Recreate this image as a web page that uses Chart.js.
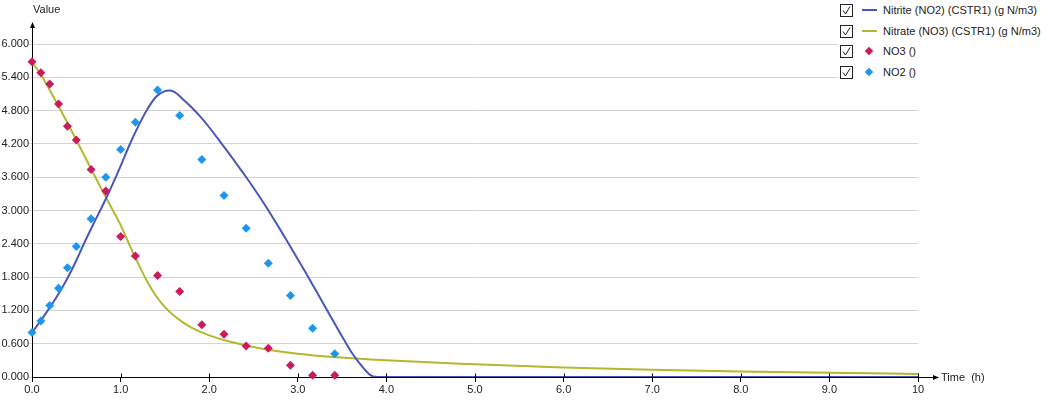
<!DOCTYPE html>
<html>
<head>
<meta charset="utf-8">
<script src="https://cdn.jsdelivr.net/npm/chart.js@4.4.1/dist/chart.umd.min.js"></script>
<style>
  body { margin: 0; background: #fff; font-family: "Liberation Sans", Arial, sans-serif; }
  #wrap { position: relative; width: 1048px; height: 404px; }
  .lbl { position: absolute; font-size: 11px; color: #222; white-space: nowrap; line-height: 12px; }
  #legend { position: absolute; left: 838px; top: 0; width: 210px; height: 82px; background: #fff; }
  .row { position: absolute; left: 0; width: 210px; height: 14px; }
  .row svg { position: absolute; left: 2px; top: 1px; }
  .line { position: absolute; left: 24px; top: 6px; width: 15px; height: 2px; }
  .dia { position: absolute; left: 28px; top: 4px; width: 6px; height: 6px; transform: rotate(45deg); }
  .row .txt { position: absolute; left: 45px; top: 1px; font-size: 11px; color: #222; white-space: nowrap; }
</style>
</head>
<body>
<div id="wrap">
  <canvas id="chart" width="1048" height="404"></canvas>
  <div class="lbl" style="left:33px; top:3px;">Value</div>
  <div class="lbl" style="left:941px; top:371px;">Time&nbsp;&nbsp;(h)</div>
  <div id="legend"></div>
</div>
<script>
// --- data ---
const nitriteT = [0, 0.1, 0.2, 0.3, 0.4, 0.5, 0.6, 0.7, 0.8, 0.9, 1.0, 1.1, 1.2, 1.3, 1.4, 1.5, 1.55, 1.6, 1.7, 1.8, 1.9, 2.0, 2.1, 2.2, 2.3, 2.4, 2.5, 2.6, 2.7, 2.8, 2.9, 3.0, 3.1, 3.2, 3.3, 3.4, 3.5, 3.6, 3.7, 3.8, 3.85, 3.9, 5, 10];
const nitriteV = [0.80, 1.02, 1.25, 1.50, 1.78, 2.10, 2.45, 2.78, 3.10, 3.44, 3.80, 4.18, 4.52, 4.82, 5.05, 5.15, 5.16, 5.14, 5.01, 4.86, 4.69, 4.50, 4.29, 4.08, 3.86, 3.64, 3.41, 3.17, 2.92, 2.66, 2.39, 2.12, 1.85, 1.57, 1.29, 1.01, 0.73, 0.46, 0.24, 0.06, 0.01, 0, 0, 0];

const nitrateT = [0, 0.1, 0.2, 0.3, 0.4, 0.5, 0.6, 0.7, 0.8, 0.9, 1.0, 1.1, 1.2, 1.3, 1.4, 1.5, 1.6, 1.7, 1.8, 2.0, 2.25, 2.6, 3.0, 3.4, 4.0, 5.0, 6.0, 7.0, 8.0, 9.0, 10.0];
const nitrateV = [5.67, 5.45, 5.17, 4.88, 4.58, 4.27, 3.96, 3.65, 3.34, 3.04, 2.74, 2.38, 2.04, 1.72, 1.46, 1.26, 1.11, 0.99, 0.89, 0.75, 0.63, 0.51, 0.42, 0.36, 0.30, 0.23, 0.17, 0.13, 0.10, 0.075, 0.055];

const sampleT = [0, 0.1, 0.2, 0.3, 0.4, 0.5, 0.667, 0.833, 1.0, 1.167, 1.417, 1.667, 1.917, 2.167, 2.417, 2.667, 2.917, 3.167, 3.417];
const no3Obs = [5.68, 5.48, 5.28, 4.92, 4.52, 4.27, 3.74, 3.35, 2.53, 2.18, 1.83, 1.54, 0.94, 0.77, 0.56, 0.52, 0.21, 0.03, 0.03];
const no2Obs = [0.80, 1.01, 1.29, 1.60, 1.97, 2.35, 2.85, 3.60, 4.10, 4.59, 5.17, 4.71, 3.92, 3.27, 2.68, 2.05, 1.47, 0.88, 0.42];

const xTicks = [0, 1, 2, 3, 4, 5, 6, 7, 8, 9, 10];
const yMax = 6.0, yStep = 0.6;

const seriesNames = ['Nitrite (NO2) (CSTR1) (g N/m3)', 'Nitrate (NO3) (CSTR1) (g N/m3)', 'NO3 ()', 'NO2 ()'];
const colors = { nitrite: '#4a57b9', nitrate: '#b3b82c', no3: '#cc1b5d', no2: '#1f96ee' };

const pts = (t, v) => t.map((x, i) => ({ x: x, y: v[i] }));

// --- legend (html, with checkboxes) ---
const legend = document.getElementById('legend');
const legendKinds = [['line', colors.nitrite], ['line', colors.nitrate], ['dia', colors.no3], ['dia', colors.no2]];
seriesNames.forEach((name, i) => {
  const row = document.createElement('div');
  row.className = 'row';
  row.style.top = (3 + i * 20.5) + 'px';
  const k = legendKinds[i];
  row.innerHTML =
    '<svg width="13" height="13"><rect x="0.5" y="0.5" width="12" height="12" fill="#fff" stroke="#222"/>' +
    '<polyline points="3,6.5 5.5,10 10,2.5" fill="none" stroke="#222" stroke-width="1"/></svg>' +
    '<span class="' + k[0] + '" style="background:' + k[1] + '"></span>' +
    '<span class="txt">' + name + '</span>';
  legend.appendChild(row);
});

// --- axis arrows and inner tick marks ---
const axisDeco = {
  id: 'axisDeco',
  afterDraw(chart) {
    const ctx = chart.ctx, a = chart.chartArea, xs = chart.scales.x;
    ctx.save();
    ctx.strokeStyle = '#000'; ctx.fillStyle = '#000'; ctx.lineWidth = 1;
    // y axis extension + arrow
    ctx.beginPath(); ctx.moveTo(a.left + 0.5, a.top); ctx.lineTo(a.left + 0.5, 26); ctx.stroke();
    ctx.beginPath(); ctx.moveTo(a.left + 0.5, 22); ctx.lineTo(a.left - 2, 28); ctx.lineTo(a.left + 3, 28); ctx.closePath(); ctx.fill();
    // x axis extension + arrow
    const yb = Math.round(a.bottom) + 0.5;
    ctx.beginPath(); ctx.moveTo(a.right, yb); ctx.lineTo(934, yb); ctx.stroke();
    ctx.beginPath(); ctx.moveTo(939, yb); ctx.lineTo(933, yb - 2.5); ctx.lineTo(933, yb + 2.5); ctx.closePath(); ctx.fill();
    // tick marks poking into the plot
    xTicks.forEach(t => {
      const px = Math.round(xs.getPixelForValue(t)) + 0.5;
      ctx.beginPath(); ctx.moveTo(px, yb - 4); ctx.lineTo(px, yb); ctx.stroke();
    });
    ctx.restore();
  }
};

Chart.defaults.font.family = '"Liberation Sans", Arial, sans-serif';
Chart.defaults.font.size = 11;
Chart.defaults.color = '#222';

new Chart(document.getElementById('chart'), {
  type: 'scatter',
  data: {
    datasets: [
      { label: seriesNames[2], data: pts(sampleT, no3Obs), pointStyle: 'rectRot', pointRadius: 4.5,
        backgroundColor: colors.no3, borderWidth: 0, showLine: false, order: 0, clip: false },
      { label: seriesNames[3], data: pts(sampleT, no2Obs), pointStyle: 'rectRot', pointRadius: 4.5,
        backgroundColor: colors.no2, borderWidth: 0, showLine: false, order: 0, clip: false },
      { label: seriesNames[0], data: pts(nitriteT, nitriteV), showLine: true, borderColor: colors.nitrite,
        borderWidth: 2, pointRadius: 0, cubicInterpolationMode: 'monotone', order: 1 },
      { label: seriesNames[1], data: pts(nitrateT, nitrateV), showLine: true, borderColor: colors.nitrate,
        borderWidth: 2, pointRadius: 0, cubicInterpolationMode: 'monotone', order: 1 }
    ]
  },
  options: {
    responsive: false, animation: false, devicePixelRatio: 1,
    layout: { padding: { top: 44, right: 130, left: 0, bottom: 0 } },
    plugins: { legend: { display: false }, tooltip: { enabled: false } },
    scales: {
      x: {
        type: 'linear', min: 0, max: 10,
        afterBuildTicks: s => { s.ticks = xTicks.map(v => ({ value: v })); },
        afterFit: s => { s.height = 27; },
        grid: { drawOnChartArea: false, drawTicks: true, tickLength: 5, color: '#000' },
        border: { color: '#000' },
        ticks: { padding: 1, maxRotation: 0, callback: v => v === 10 ? '10' : v.toFixed(1) }
      },
      y: {
        min: 0, max: yMax,
        afterFit: s => { s.width = 32; },
        grid: { color: '#d4d4d4', drawTicks: true, tickLength: 3 },
        border: { color: '#000' },
        ticks: { stepSize: yStep, padding: 0, callback: v => v.toFixed(3) }
      }
    }
  },
  plugins: [axisDeco]
});
</script>
</body>
</html>
